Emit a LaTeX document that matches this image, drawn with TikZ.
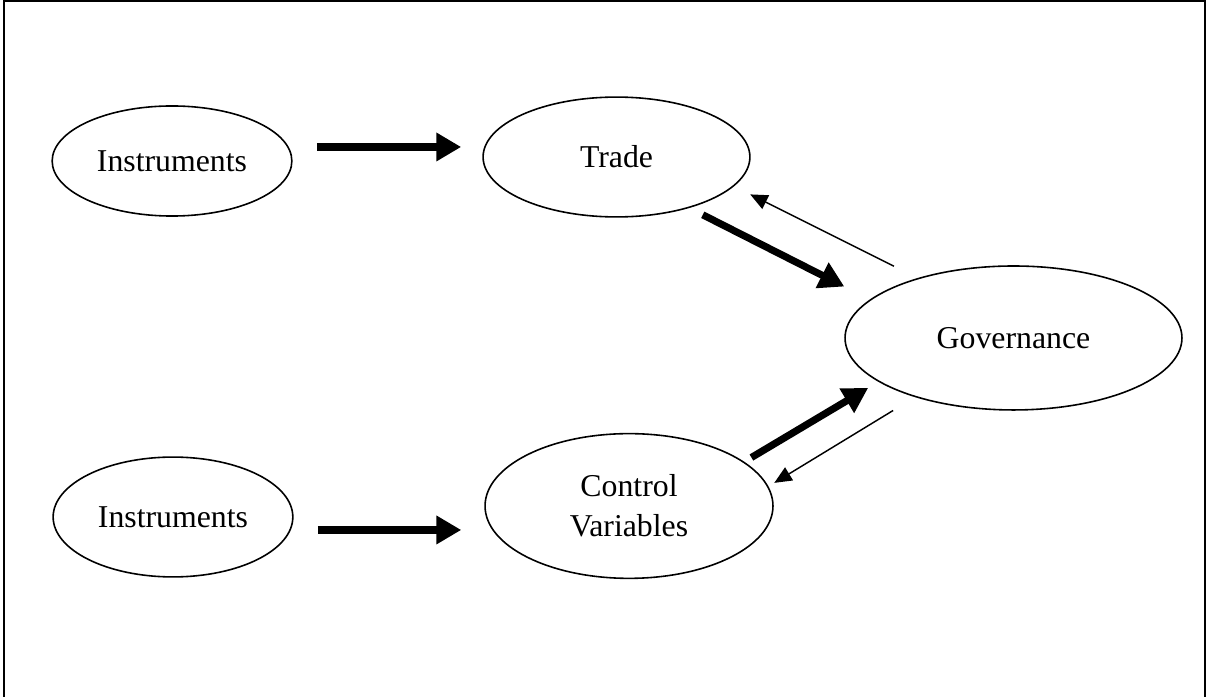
\documentclass[tikz,border=0pt]{standalone}
\usepackage{fontspec}
\setmainfont{Liberation Serif}
\usetikzlibrary{shapes.geometric,arrows.meta}

\tikzset{
  blob/.style={draw, ellipse, line width=0.6pt, inner sep=0pt, align=center, font=\fontsize{12}{15}\selectfont},
  bigarrow/.style={line width=2.7pt, -{Triangle[length=0.33cm,width=0.36cm]}},
  thinarrow/.style={line width=0.55pt, -{Triangle[length=0.23cm,width=0.2cm]}}
}

\begin{document}
\begin{tikzpicture}

        \useasboundingbox (0,0) rectangle (16,9.247) ;
        \draw [line width=0.75pt] (0.053,0) -- (0.053,9.234) -- (15.987,9.234) -- (15.987,0) ;

        \node [blob, minimum width=3.18cm, minimum height=1.46cm] (inst1) at (2.282,7.111) {Instruments} ;
        \node [blob, minimum width=3.54cm, minimum height=1.59cm] (trade) at (8.179,7.164) {Trade} ;
        \node [blob, minimum width=4.47cm, minimum height=1.91cm] (gov) at (13.446,4.763) {Governance} ;
        \node [blob, minimum width=3.18cm, minimum height=1.59cm] (inst2) at (2.295,2.388) {Instruments} ;
        \node [blob, minimum width=3.82cm, minimum height=1.92cm] (ctrl) at (8.345,2.534) {Control\\Variables} ;

        \draw [bigarrow, shorten <=0.32cm, shorten >=0.28cm] ([yshift=0.186cm]inst1.east) -- ([yshift=0.133cm]trade.west) ;
        \draw [bigarrow, shorten <=0.32cm, shorten >=0.305cm] ([yshift=-0.172cm]inst2.east) -- ([yshift=-0.318cm]ctrl.west) ;

        \draw [bigarrow, shorten <=0.2cm, shorten >=0.38cm] (trade.-35.5) -- (gov.165.7) ;
        \draw [thinarrow, shorten <=0.35cm, shorten >=0.24cm] (gov.148.6) -- (trade.-14) ;
        \draw [bigarrow, shorten <=0.11cm, shorten >=0.16cm] (ctrl.21) -- (gov.-162.4) ;
        \draw [thinarrow, shorten <=0.34cm, shorten >=0.09cm] (gov.-149.2) -- (ctrl.8.4) ;

\end{tikzpicture}
\end{document}
